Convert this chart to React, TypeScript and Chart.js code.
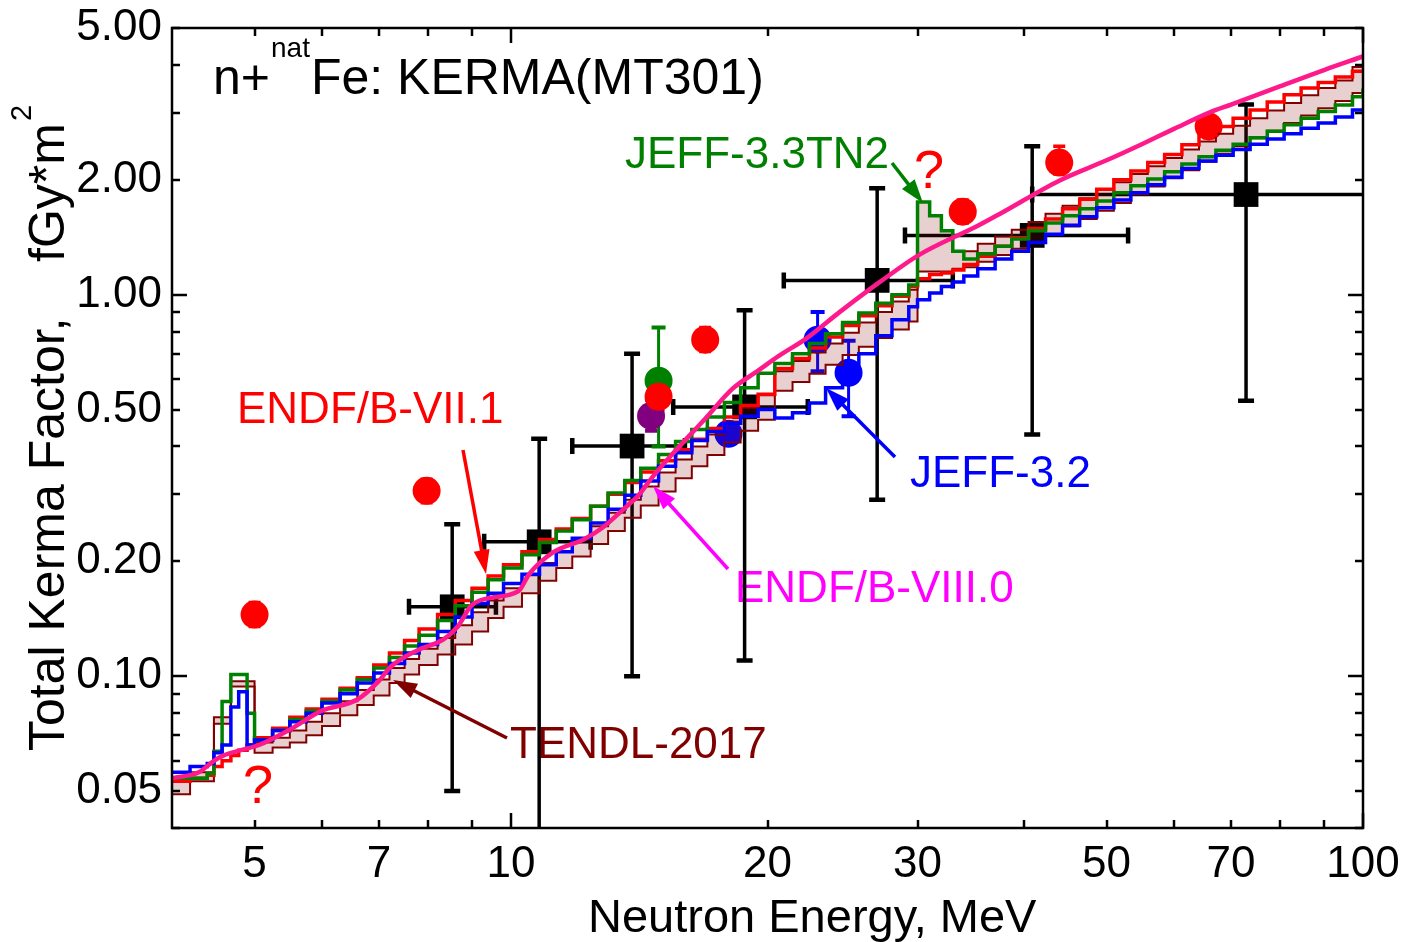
import React, { useEffect, useRef } from 'react';
import { Chart, registerables } from 'chart.js';

Chart.register(...registerables);

const FONT = "'Liberation Sans', Arial, Helvetica, sans-serif";

// Common energy grid (MeV) of the histogram evaluations (bin lower edges)
const ENERGY = [
  4.0, 4.2, 4.4, 4.48, 4.58, 4.69, 4.79, 4.9, 5.0,
  5.25, 5.5, 5.75, 6.0, 6.3, 6.6, 6.9, 7.2, 7.5, 7.8,
  8.2, 8.6, 9.0, 9.4, 9.8, 10.3, 10.8, 11.3, 11.8,
  12.4, 13.0, 13.6, 14.2, 14.9, 15.6, 16.3, 17.0, 17.8, 18.6, 19.5,
  20.4, 21.4, 22.4, 23.4, 24.5, 25.6, 26.8, 28.0, 29.3,
  30.0, 31.0, 32.0, 33.0, 34.0, 35.3, 37.0, 38.7,
  40.5, 42.4, 44.4, 46.5, 48.7, 51.0, 53.4, 55.9, 58.5, 61.3,
  64.2, 67.2, 70.4, 73.7, 77.2, 80.8, 84.6, 88.6, 92.8, 97.2, 100,
];

const ENDF_B_VII_1 = [
  0.053, 0.054, 0.055, 0.058, 0.060, 0.062, 0.064, 0.066, 0.069,
  0.073, 0.078, 0.082, 0.087, 0.093, 0.099, 0.107, 0.115, 0.124, 0.133,
  0.145, 0.158, 0.170, 0.183, 0.196, 0.212, 0.228, 0.243, 0.259,
  0.279, 0.300, 0.322, 0.343, 0.367, 0.392, 0.418, 0.446, 0.478, 0.512, 0.548,
  0.640, 0.680, 0.725, 0.775, 0.830, 0.880, 0.935, 0.990, 1.050,
  1.100, 1.130, 1.140, 1.160, 1.200, 1.260, 1.340, 1.410,
  1.490, 1.580, 1.680, 1.780, 1.890, 2.000, 2.110, 2.220, 2.330, 2.470,
  2.620, 2.760, 2.900, 3.050, 3.200, 3.340, 3.480, 3.600, 3.720, 3.850, 3.850,
];

const JEFF_3_3TN2 = [
  0.054, 0.054, 0.0556, 0.0636, 0.0858, 0.101, 0.101, 0.080, 0.068,
  0.072, 0.077, 0.081, 0.086, 0.092, 0.098, 0.105, 0.112, 0.120, 0.128,
  0.140, 0.153, 0.166, 0.179, 0.192, 0.208, 0.224, 0.240, 0.257,
  0.279, 0.302, 0.326, 0.351, 0.381, 0.412, 0.443, 0.478, 0.522, 0.570, 0.622,
  0.660, 0.700, 0.745, 0.790, 0.845, 0.895, 0.950, 1.000, 1.060,
  1.750, 1.610, 1.470, 1.300, 1.240, 1.280, 1.340, 1.400,
  1.470, 1.540, 1.610, 1.680, 1.760, 1.850, 1.930, 2.010, 2.100, 2.200,
  2.300, 2.390, 2.480, 2.580, 2.680, 2.790, 2.900, 3.020, 3.140, 3.300, 3.470,
];

const JEFF_3_2 = [
  0.056, 0.058, 0.059, 0.063, 0.066, 0.083, 0.091, 0.066, 0.068,
  0.072, 0.076, 0.080, 0.085, 0.090, 0.096, 0.102, 0.108, 0.115, 0.121,
  0.131, 0.143, 0.155, 0.165, 0.175, 0.185, 0.196, 0.212, 0.230,
  0.252, 0.274, 0.298, 0.325, 0.355, 0.385, 0.415, 0.438, 0.460, 0.480, 0.500,
  0.475, 0.490, 0.520, 0.570, 0.630, 0.700, 0.780, 0.860, 0.930,
  0.970, 1.010, 1.050, 1.080, 1.120, 1.170, 1.240, 1.300,
  1.370, 1.440, 1.520, 1.600, 1.690, 1.770, 1.850, 1.940, 2.030, 2.140,
  2.240, 2.320, 2.400, 2.480, 2.560, 2.640, 2.730, 2.820, 2.920, 3.050, 3.080,
];

const TENDL_LOW = [
  0.049, 0.053, 0.053, 0.075, 0.075, 0.094, 0.094, 0.094, 0.063,
  0.065, 0.067, 0.070, 0.074, 0.079, 0.084, 0.089, 0.096, 0.101, 0.107,
  0.114, 0.121, 0.131, 0.142, 0.152, 0.165, 0.178, 0.192, 0.206,
  0.222, 0.240, 0.260, 0.280, 0.305, 0.330, 0.355, 0.380, 0.410, 0.440, 0.470,
  0.560, 0.590, 0.620, 0.655, 0.695, 0.730, 0.770, 0.810, 0.850,
  1.150, 1.150, 1.150, 1.170, 1.180, 1.220, 1.270, 1.320,
  1.370, 1.440, 1.510, 1.580, 1.660, 1.740, 1.830, 1.920, 2.020, 2.120,
  2.230, 2.340, 2.450, 2.570, 2.690, 2.820, 2.950, 3.080, 3.220, 3.380, 3.450,
];

const TENDL_HIGH = [
  0.054, 0.056, 0.056, 0.078, 0.078, 0.097, 0.097, 0.097, 0.067,
  0.069, 0.072, 0.076, 0.080, 0.086, 0.092, 0.098, 0.105, 0.111, 0.118,
  0.126, 0.136, 0.147, 0.158, 0.170, 0.184, 0.198, 0.213, 0.229,
  0.247, 0.268, 0.290, 0.314, 0.342, 0.370, 0.400, 0.430, 0.465, 0.505, 0.545,
  0.630, 0.670, 0.705, 0.745, 0.795, 0.845, 0.900, 0.960, 1.030,
  1.750, 1.610, 1.470, 1.300, 1.300, 1.360, 1.420, 1.480,
  1.550, 1.630, 1.710, 1.790, 1.880, 1.970, 2.070, 2.170, 2.280, 2.400,
  2.520, 2.640, 2.770, 2.900, 3.040, 3.180, 3.330, 3.480, 3.640, 3.950, 4.050,
];

// ENDF/B-VIII.0 (smooth curve)
const ENDF8_E = [
  4.0, 4.3, 4.48, 4.6, 4.82, 5.06, 5.51, 5.98, 6.61, 6.98,
  7.23, 7.77, 8.34, 8.66, 8.98, 9.4, 10.2, 10.5, 11.2, 12.2,
  12.8, 13.7, 14.1, 14.6, 15.4, 16.9, 18.2, 19.5, 20.6, 22.2,
  24.3, 27.1, 30.1, 35.4, 37.5, 44.0, 50, 55, 60, 66,
  70, 80, 90, 100,
];
const ENDF_B_VIII_0 = [
  0.054, 0.056, 0.060, 0.062, 0.064, 0.066, 0.0726, 0.081, 0.087, 0.0966,
  0.106, 0.117, 0.125, 0.135, 0.153, 0.160, 0.167, 0.185, 0.211, 0.229,
  0.245, 0.280, 0.297, 0.329, 0.378, 0.473, 0.567, 0.632, 0.690, 0.767,
  0.900, 1.08, 1.27, 1.52, 1.63, 1.99, 2.25, 2.48, 2.72, 3.00,
  3.15, 3.52, 3.88, 4.21,
];

// Experimental points (black squares)
const SQ_E = [8.53, 10.79, 13.87, 18.8, 26.9, 40.9, 72.9];
const SQ_K = [0.152, 0.225, 0.401, 0.508, 1.09, 1.43, 1.83];
const SQ_E_LO = [7.59, 9.3, 11.8, 15.5, 20.9, 29.0, 40.9];
const SQ_E_HI = [9.6, 12.4, 16.0, 22.3, 33.0, 53.0, 130];
const SQ_K_LO = [0.050, 0.02, 0.10, 0.11, 0.29, 0.43, 0.527];
const SQ_K_HI = [0.25, 0.419, 0.70, 0.91, 1.90, 2.45, 3.15];

// Red circles
const RED_E = [5.0, 7.96, 14.9, 16.9, 33.9, 44.0, 65.9];
const RED_K = [0.145, 0.306, 0.540, 0.762, 1.65, 2.22, 2.76];
const RED_K_LO = [0.135, 0.285, 0.50, 0.71, 1.54, 2.07, 2.58];
const RED_K_HI = [0.156, 0.328, 0.58, 0.82, 1.77, 2.45, 2.95];

// Green circle
const GRN_E = [14.9];
const GRN_K = [0.595];
const GRN_K_LO = [0.40];
const GRN_K_HI = [0.82];

// Purple circle
const PUR_E = [14.6];
const PUR_K = [0.481];
const PUR_K_LO = [0.44];
const PUR_K_HI = [0.53];

// Blue circles
const BLU_E = [18.0, 22.9, 24.9];
const BLU_K = [0.432, 0.762, 0.624];
const BLU_K_LO = [0.41, 0.63, 0.48];
const BLU_K_HI = [0.455, 0.90, 0.757];

// Axis ticks
const X_TICKS = [5, 6, 7, 8, 9, 10, 20, 30, 40, 50, 60, 70, 80, 90, 100];
const X_LABELS = [5, 7, 10, 20, 30, 50, 70, 100];
const X_MAJOR = [10, 100];
const Y_TICKS = [0.04, 0.05, 0.06, 0.07, 0.08, 0.09, 0.1, 0.2, 0.3, 0.4, 0.5, 0.6, 0.7, 0.8, 0.9, 1, 2, 3, 4, 5];
const Y_LABELS = [0.05, 0.1, 0.2, 0.5, 1, 2, 5];
const Y_MAJOR = [0.1, 1];

const pts = (xs: number[], ys: number[]) => xs.map((x, i) => ({ x, y: ys[i] }));

function drawErrors(
  ctx: CanvasRenderingContext2D, chart: any,
  E: number[], K: number[], klo: number[] | null, khi: number[] | null,
  elo: number[] | null, ehi: number[] | null, color: string, lw: number, cap: number,
) {
  const xs = chart.scales.x;
  const ys = chart.scales.y;
  ctx.strokeStyle = color;
  ctx.lineCap = 'butt';
  for (let i = 0; i < E.length; i++) {
    const px = xs.getPixelForValue(E[i]);
    const py = ys.getPixelForValue(K[i]);
    if (klo && khi) {
      const y1 = ys.getPixelForValue(klo[i]);
      const y2 = ys.getPixelForValue(khi[i]);
      ctx.lineWidth = lw;
      ctx.beginPath(); ctx.moveTo(px, y1); ctx.lineTo(px, y2); ctx.stroke();
      ctx.lineWidth = lw + 1;
      ctx.beginPath();
      ctx.moveTo(px - cap, y1); ctx.lineTo(px + cap, y1);
      ctx.moveTo(px - cap, y2); ctx.lineTo(px + cap, y2);
      ctx.stroke();
    }
    if (elo && ehi) {
      const x1 = xs.getPixelForValue(elo[i]);
      const x2 = xs.getPixelForValue(ehi[i]);
      ctx.lineWidth = lw;
      ctx.beginPath(); ctx.moveTo(x1, py); ctx.lineTo(x2, py); ctx.stroke();
      ctx.lineWidth = lw + 1;
      ctx.beginPath();
      ctx.moveTo(x1, py - cap); ctx.lineTo(x1, py + cap);
      ctx.moveTo(x2, py - cap); ctx.lineTo(x2, py + cap);
      ctx.stroke();
    }
  }
}

function arrow(ctx: CanvasRenderingContext2D, x1: number, y1: number, x2: number, y2: number, color: string) {
  const hl = 24;
  const hw = 8;
  const a = Math.atan2(y2 - y1, x2 - x1);
  const c = Math.cos(a);
  const s = Math.sin(a);
  ctx.strokeStyle = color;
  ctx.fillStyle = color;
  ctx.lineWidth = 3.5;
  ctx.beginPath();
  ctx.moveTo(x1, y1);
  ctx.lineTo(x2 - hl * 0.8 * c, y2 - hl * 0.8 * s);
  ctx.stroke();
  ctx.beginPath();
  ctx.moveTo(x2, y2);
  ctx.lineTo(x2 - hl * c + hw * s, y2 - hl * s - hw * c);
  ctx.lineTo(x2 - hl * c - hw * s, y2 - hl * s + hw * c);
  ctx.closePath();
  ctx.fill();
}

const backgroundPlugin = {
  id: 'bgDecor',
  beforeDatasetsDraw(chart: any) {
    const ctx: CanvasRenderingContext2D = chart.ctx;
    const a = chart.chartArea;
    ctx.save();
    // texts
    ctx.textBaseline = 'alphabetic';
    ctx.textAlign = 'left';
    ctx.fillStyle = '#000';
    ctx.font = `50px ${FONT}`;
    ctx.fillText('n+', 213, 94);
    const w1 = ctx.measureText('n+').width;
    ctx.font = `28px ${FONT}`;
    ctx.fillText('nat', 213 + w1 + 1, 57);
    const w2 = ctx.measureText('nat').width;
    ctx.font = `50px ${FONT}`;
    ctx.fillText('Fe: KERMA(MT301)', 213 + w1 + w2 + 2, 94);

    ctx.font = `44px ${FONT}`;
    ctx.fillStyle = '#008000';
    ctx.fillText('JEFF-3.3TN2', 625, 168);
    ctx.fillStyle = '#ff0000';
    ctx.fillText('ENDF/B-VII.1', 237, 423);
    ctx.fillStyle = '#0000ff';
    ctx.fillText('JEFF-3.2', 910, 487);
    ctx.fillStyle = '#ff00ff';
    ctx.fillText('ENDF/B-VIII.0', 735, 602);
    ctx.fillStyle = '#800000';
    ctx.fillText('TENDL-2017', 510, 758);
    ctx.fillStyle = '#ff0000';
    ctx.font = `54px ${FONT}`;
    ctx.textAlign = 'center';
    ctx.fillText('?', 929, 188);
    ctx.fillText('?', 258, 803);
    ctx.textAlign = 'left';

    // axis titles
    ctx.fillStyle = '#000';
    ctx.font = `47px ${FONT}`;
    ctx.fillText('Neutron Energy, MeV', 588, 932);
    ctx.save();
    ctx.translate(64, 751);
    ctx.rotate(-Math.PI / 2);
    ctx.font = `50px ${FONT}`;
    ctx.fillText('Total Kerma Factor,', 0, 0);
    ctx.fillText('fGy*m', 751 - 262, 0);
    const wm = ctx.measureText('fGy*m').width;
    ctx.font = `29px ${FONT}`;
    ctx.fillText('2', 751 - 262 + wm + 2, -33);
    ctx.restore();

    // error bars
    ctx.beginPath();
    ctx.rect(a.left, a.top, a.right - a.left, a.bottom - a.top);
    ctx.clip();
    drawErrors(ctx, chart, SQ_E, SQ_K, SQ_K_LO, SQ_K_HI, SQ_E_LO, SQ_E_HI, '#000', 3.5, 8);
    drawErrors(ctx, chart, RED_E, RED_K, RED_K_LO, RED_K_HI, null, null, '#ff0000', 2.5, 6);
    drawErrors(ctx, chart, GRN_E, GRN_K, GRN_K_LO, GRN_K_HI, null, null, '#008000', 3, 7);
    drawErrors(ctx, chart, PUR_E, PUR_K, PUR_K_LO, PUR_K_HI, null, null, '#800080', 3, 6);
    drawErrors(ctx, chart, BLU_E, BLU_K, BLU_K_LO, BLU_K_HI, null, null, '#0000ff', 3, 7);
    ctx.restore();
  },
  afterDatasetsDraw(chart: any) {
    const ctx: CanvasRenderingContext2D = chart.ctx;
    const a = chart.chartArea;
    const xs = chart.scales.x;
    const ys = chart.scales.y;
    ctx.save();
    // arrows
    arrow(ctx, 892, 163, 923, 203, '#008000');
    arrow(ctx, 463, 450, 486, 574, '#ff0000');
    arrow(ctx, 895, 457, 826, 388, '#0000ff');
    arrow(ctx, 728, 569, 653, 486, '#ff00ff');
    arrow(ctx, 507, 738, 393, 680, '#800000');

    // frame + inward ticks
    ctx.strokeStyle = '#000';
    ctx.lineWidth = 2.5;
    ctx.strokeRect(a.left, a.top, a.right - a.left, a.bottom - a.top);
    ctx.lineWidth = 2.5;
    ctx.beginPath();
    X_TICKS.forEach((v) => {
      const px = Math.round(xs.getPixelForValue(v));
      const len = X_MAJOR.includes(v) ? 15 : 8;
      ctx.moveTo(px, a.bottom); ctx.lineTo(px, a.bottom - len);
      ctx.moveTo(px, a.top); ctx.lineTo(px, a.top + len);
    });
    Y_TICKS.forEach((v) => {
      const py = Math.round(ys.getPixelForValue(v));
      const len = Y_MAJOR.includes(v) ? 15 : 8;
      ctx.moveTo(a.left, py); ctx.lineTo(a.left + len, py);
      ctx.moveTo(a.right, py); ctx.lineTo(a.right - len, py);
    });
    ctx.stroke();
    ctx.restore();
  },
};

export default function App() {
  const ref = useRef<HTMLCanvasElement>(null);
  useEffect(() => {
    const canvas = ref.current;
    if (!canvas) return;
    const stepLine = (label: string, ys: number[], color: string, width: number, order: number) => ({
      label,
      data: pts(ENERGY, ys),
      borderColor: color,
      backgroundColor: color,
      borderWidth: width,
      pointRadius: 0,
      stepped: 'before',
      fill: false,
      order,
    });
    const dots = (label: string, xs: number[], ys: number[], color: string, style: string, r: number, order: number) => ({
      label,
      data: pts(xs, ys),
      showLine: false,
      pointStyle: style,
      pointRadius: r,
      pointBackgroundColor: color,
      pointBorderColor: color,
      pointBorderWidth: 0,
      borderColor: color,
      backgroundColor: color,
      order,
    });
    const chart = new Chart(canvas, {
      type: 'line',
      data: {
        datasets: [
          { ...stepLine('TENDL-2017 low', TENDL_LOW, '#800000', 2, 6) },
          { ...stepLine('TENDL-2017 high', TENDL_HIGH, '#800000', 2, 5), fill: '-1', backgroundColor: 'rgba(140, 20, 20, 0.2)' },
          stepLine('ENDF/B-VII.1', ENDF_B_VII_1, '#ff0000', 3.5, 4),
          stepLine('JEFF-3.3TN2', JEFF_3_3TN2, '#008000', 3.5, 3),
          stepLine('JEFF-3.2', JEFF_3_2, '#0000ff', 3.5, 2),
          {
            label: 'ENDF/B-VIII.0',
            data: pts(ENDF8_E, ENDF_B_VIII_0),
            borderColor: '#ff1a8c',
            backgroundColor: '#ff1a8c',
            borderWidth: 4.5,
            pointRadius: 0,
            cubicInterpolationMode: 'monotone',
            fill: false,
            order: 1,
          },
          dots('exp red', RED_E, RED_K, '#ff0000', 'circle', 14, 7),
          dots('exp blue', BLU_E, BLU_K, '#0000ff', 'circle', 14, 8),
          dots('exp green', GRN_E, GRN_K, '#008000', 'circle', 14, 9),
          dots('exp purple', PUR_E, PUR_K, '#800080', 'circle', 14, 10),
          dots('exp black', SQ_E, SQ_K, '#000000', 'rect', 17.5, 11),
        ] as any,
      },
      options: {
        responsive: false,
        animation: false,
        devicePixelRatio: 1,
        layout: { padding: { left: 0, top: 28, right: 42, bottom: 0 } },
        plugins: {
          legend: { display: false },
          tooltip: { enabled: false },
          title: { display: false },
        },
        scales: {
          x: {
            type: 'logarithmic',
            position: 'bottom',
            min: 4,
            max: 100,
            grid: { display: false, drawTicks: false, drawOnChartArea: false },
            border: { display: false },
            afterBuildTicks: (s: any) => { s.ticks = X_TICKS.map((v) => ({ value: v })); },
            afterFit: (s: any) => { s.height = 114; s.paddingLeft = 0; s.paddingRight = 0; },
            ticks: {
              autoSkip: false,
              maxRotation: 0,
              minRotation: 0,
              padding: 10,
              color: '#000',
              font: { family: FONT, size: 44 },
              callback: (v: any) => (X_LABELS.includes(Number(v)) ? String(v) : ''),
            },
          },
          y: {
            type: 'logarithmic',
            position: 'left',
            min: 0.04,
            max: 5,
            grid: { display: false, drawTicks: false, drawOnChartArea: false },
            border: { display: false },
            afterBuildTicks: (s: any) => { s.ticks = Y_TICKS.map((v) => ({ value: v })); },
            afterFit: (s: any) => { s.width = 172; s.paddingTop = 0; s.paddingBottom = 0; },
            ticks: {
              autoSkip: false,
              padding: 10,
              color: '#000',
              font: { family: FONT, size: 44 },
              callback: (v: any) => (Y_LABELS.includes(Number(v)) ? Number(v).toFixed(2) : ''),
            },
          },
        },
      } as any,
      plugins: [backgroundPlugin],
    });
    return () => chart.destroy();
  }, []);
  return (
    <div style={{ position: 'fixed', left: 0, top: 0, width: 1405, height: 942, background: '#fff' }}>
      <canvas ref={ref} width={1405} height={942} style={{ width: 1405, height: 942, display: 'block' }} />
    </div>
  );
}
